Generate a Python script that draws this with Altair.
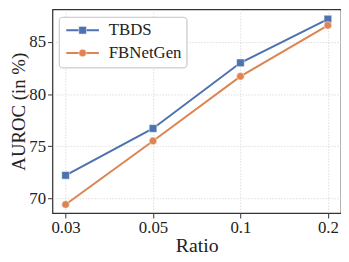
import altair as alt
import pandas as pd

ratios = ["0.03", "0.05", "0.1", "0.2"]
series_names = ["TBDS", "FBNetGen"]
tbds = [72.2, 76.7, 83.0, 87.2]
fbnetgen = [69.4, 75.5, 81.7, 86.6]
colors = ["#4C72B0", "#DD8452"]
shapes = ["square", "circle"]

rows = []
for name, vals in zip(series_names, [tbds, fbnetgen]):
    for r, v in zip(ratios, vals):
        rows.append({"Ratio": r, "AUROC": v, "Model": name})
df = pd.DataFrame(rows)
legend_df = pd.DataFrame({"Model": series_names})

FONT = "Liberation Serif, Times New Roman, serif"

x_enc = alt.X("Ratio:O", sort=ratios,
              scale=alt.Scale(type="point", padding=0.15),
              axis=alt.Axis(title="Ratio", labelAngle=0))
y_enc = alt.Y("AUROC:Q",
              scale=alt.Scale(domain=[68.58, 88.12], nice=False, zero=False),
              axis=alt.Axis(title="AUROC (in %)", values=[70, 75, 80, 85],
                            titleFontSize=19))
color_scale = alt.Scale(domain=series_names, range=colors)
color_enc = alt.Color("Model:N", sort=series_names, scale=color_scale, legend=None)
fill_enc = alt.Fill("Model:N", sort=series_names, scale=color_scale, legend=None)
shape_enc = alt.Shape("Model:N", sort=series_names,
                      scale=alt.Scale(domain=series_names, range=shapes), legend=None)

lines = alt.Chart(df).mark_line(strokeWidth=2).encode(x=x_enc, y=y_enc, color=color_enc)
points = alt.Chart(df).mark_point(filled=True, size=60, opacity=1, stroke="white",
                                  strokeWidth=0.5).encode(
    x=x_enc, y=y_enc, fill=fill_enc, shape=shape_enc)

main = alt.layer(lines, points)

ly = alt.Y("Model:N", sort=series_names,
           scale=alt.Scale(type="point", domain=series_names, range=[21, 44], padding=0),
           axis=None)
box = alt.Chart(legend_df).mark_rect(fill="white", fillOpacity=0.85, stroke="#cccccc",
                                     strokeWidth=1, cornerRadius=3).encode(
    x=alt.value(7), x2=alt.value(136), y=alt.value(8), y2=alt.value(59))
lrule = alt.Chart(legend_df).mark_rule(strokeWidth=2).encode(
    x=alt.value(14), x2=alt.value(47), y=ly, color=color_enc)
lpts = alt.Chart(legend_df).mark_point(filled=True, size=60, opacity=1, stroke="white",
                                       strokeWidth=0.5).encode(
    x=alt.value(30.5), y=ly, fill=fill_enc, shape=shape_enc)
ltext = alt.Chart(legend_df).mark_text(align="left", baseline="middle", font=FONT,
                                       fontSize=17, color="#222222").encode(
    x=alt.value(57), y=ly, text="Model:N")
legend = alt.layer(box, lrule, lpts, ltext)

chart = alt.layer(main, legend).resolve_scale(y="independent").properties(
    width=292, height=206,
    autosize=alt.AutoSizeParams(type="none"),
    padding={"left": 45, "top": 0, "right": 0, "bottom": 44},
).configure_view(
    stroke="#333333", strokeWidth=1.25
).configure_axis(
    labelFont=FONT, titleFont=FONT, labelFontSize=17, titleFontSize=20,
    labelColor="#222222", titleColor="#222222", titleFontWeight="normal",
    domain=False, tickColor="#333333", tickSize=5, tickWidth=1,
    grid=True, gridColor="#dddddd", gridDash=[1.5, 1.5], gridWidth=1,
).configure_axisY(
    labelPadding=2, titlePadding=0
).configure_axisX(
    labelPadding=2, titlePadding=0
)

chart.save("out.html", embed_options={"renderer": "svg", "actions": False})
